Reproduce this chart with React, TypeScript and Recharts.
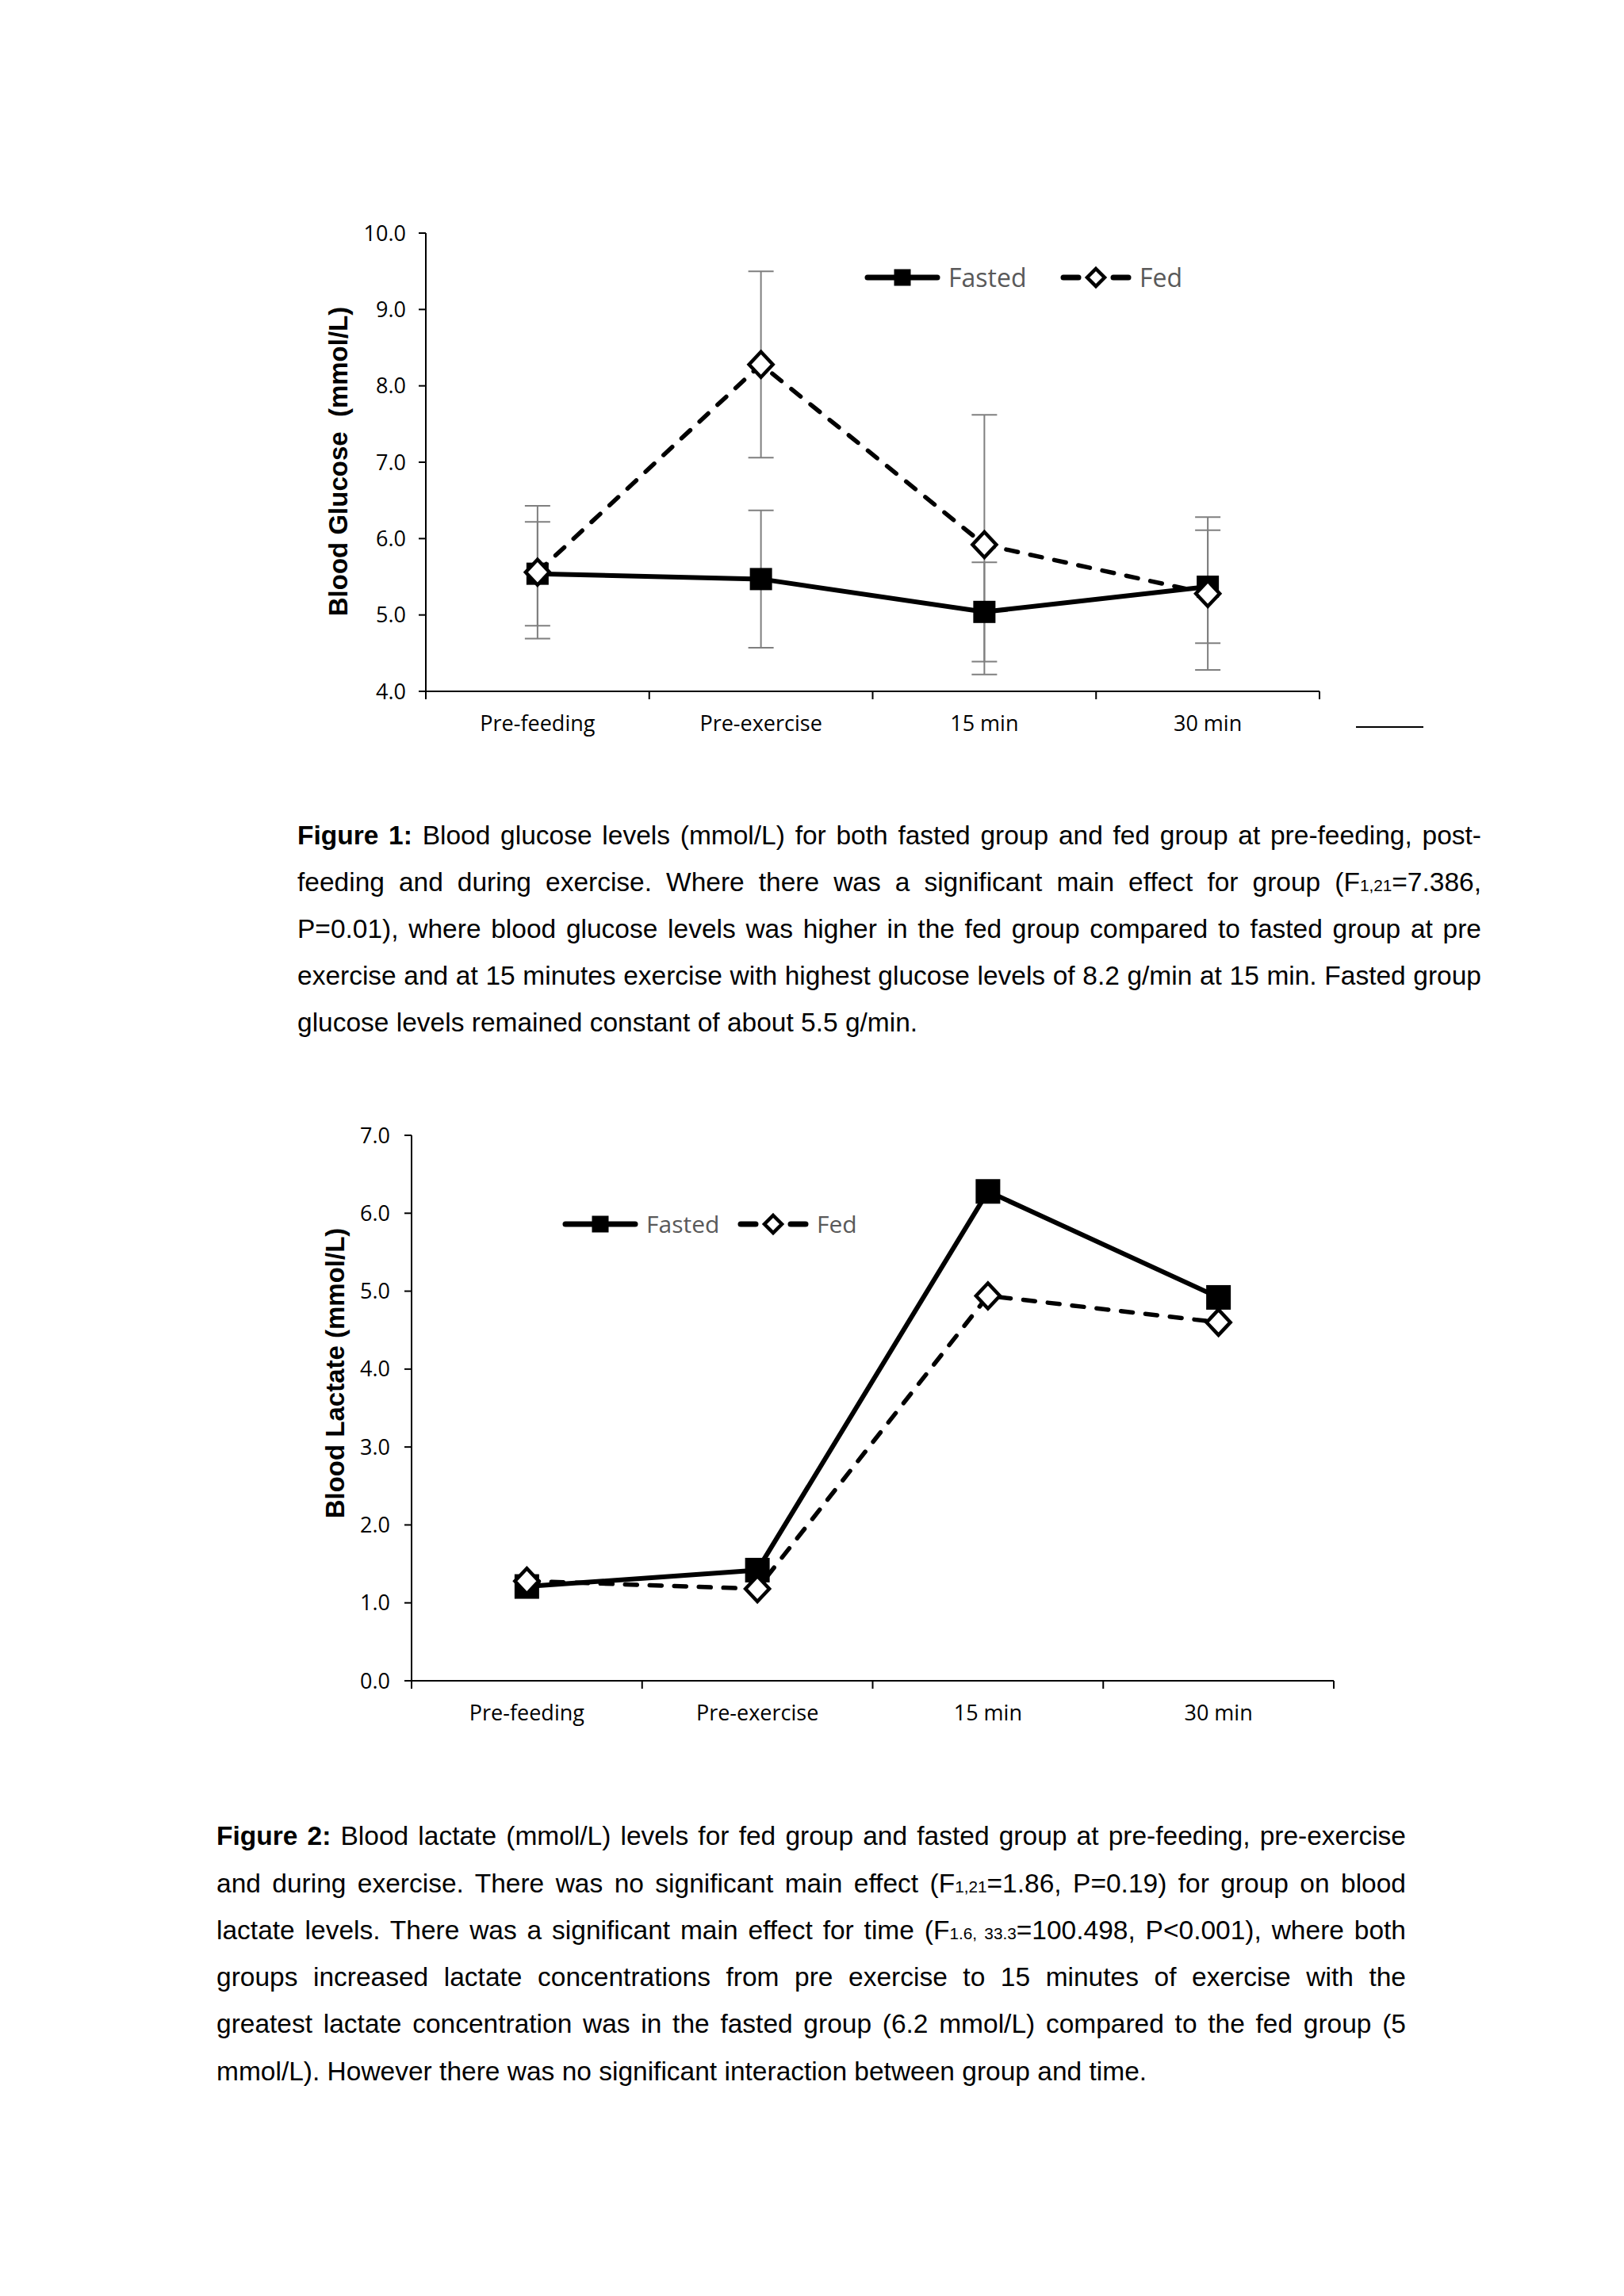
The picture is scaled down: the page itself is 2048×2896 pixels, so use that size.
import React from "react";
import { LineChart, Line, XAxis, YAxis, ErrorBar } from "recharts";

const timepoints = ["Pre-feeding", "Pre-exercise", "15 min", "30 min"];

const glucoseFasted = [5.54, 5.47, 5.04, 5.37];
const glucoseFastedErr = [0.68, 0.9, 0.65, 0.74];
const glucoseFed = [5.56, 8.28, 5.92, 5.28];
const glucoseFedErr = [0.87, 1.22, 1.7, 1.0];
const glucoseTicks = [4, 5, 6, 7, 8, 9, 10];

const lactateFasted = [1.21, 1.42, 6.28, 4.92];
const lactateFed = [1.28, 1.18, 4.94, 4.6];
const lactateTicks = [0, 1, 2, 3, 4, 5, 6, 7];

const glucoseData = timepoints.map((name, i) => ({
  name,
  fasted: glucoseFasted[i],
  fastedErr: glucoseFastedErr[i],
  fed: glucoseFed[i],
  fedErr: glucoseFedErr[i],
}));

const lactateData = timepoints.map((name, i) => ({
  name,
  fasted: lactateFasted[i],
  fed: lactateFed[i],
}));

const tickFont = "'Open Sans', sans-serif";
const textFont = "'Liberation Sans', Arial, sans-serif";

function SquareDot(props: any) {
  const { cx, cy, size } = props;
  if (cx == null || cy == null) return null;
  return <rect x={cx - size / 2} y={cy - size / 2} width={size} height={size} fill="#000" />;
}

function DiamondDot(props: any) {
  const { cx, cy, w, h, sw = 4.5 } = props;
  if (cx == null || cy == null) return null;
  const pts = `${cx},${cy - h} ${cx + w},${cy} ${cx},${cy + h} ${cx - w},${cy}`;
  return <polygon points={pts} fill="#fff" stroke="#000" strokeWidth={sw} strokeLinejoin="miter" />;
}

function CategoryTick(props: any) {
  const { x, payload, index, axisY, step } = props;
  return (
    <g>
      <line x1={x - step / 2} x2={x - step / 2} y1={axisY} y2={axisY + 10} stroke="#000" strokeWidth={2} />
      {index === timepoints.length - 1 && (
        <line x1={x + step / 2} x2={x + step / 2} y1={axisY} y2={axisY + 10} stroke="#000" strokeWidth={2} />
      )}
      <text
        x={x}
        y={axisY + 39}
        textAnchor="middle"
        dominantBaseline="central"
        fontFamily={tickFont}
        fontSize={27}
        fill="#000"
      >
        {payload.value}
      </text>
    </g>
  );
}

function LegendItem({ left, top, lineW, dashed, label, fontSize }: any) {
  const mid = lineW / 2;
  return (
    <div style={{ position: "absolute", left, top, height: 0 }}>
      <svg width={lineW} height={40} style={{ position: "absolute", left: 0, top: -20 }}>
        {dashed ? (
          <g stroke="#000" strokeWidth={7} strokeLinecap="round">
            <line x1={4} x2={mid - 22} y1={20} y2={20} />
            <line x1={mid + 22} x2={lineW - 4} y1={20} y2={20} />
          </g>
        ) : (
          <line x1={4} x2={lineW - 4} y1={20} y2={20} stroke="#000" strokeWidth={7} strokeLinecap="round" />
        )}
        {dashed ? (
          <DiamondDot cx={mid} cy={20} w={11} h={11} sw={4.5} />
        ) : (
          <SquareDot cx={mid} cy={20} size={21} />
        )}
      </svg>
      <span
        style={{
          position: "absolute",
          left: lineW + 10,
          top: -fontSize * 0.7,
          fontFamily: tickFont,
          fontSize,
          color: "#595959",
          whiteSpace: "nowrap",
          lineHeight: `${fontSize * 1.4}px`,
        }}
      >
        {label}
      </span>
    </div>
  );
}

function YTitle({ cx, cy, text }: any) {
  return (
    <div
      style={{
        position: "absolute",
        left: cx,
        top: cy,
        transform: "translate(-50%, -50%) rotate(-90deg)",
        fontFamily: textFont,
        fontWeight: "bold",
        fontSize: 33,
        whiteSpace: "pre",
        color: "#000",
      }}
    >
      {text}
    </div>
  );
}

function CaptionLine({ children, top, left, width, last }: any) {
  return (
    <div
      style={{
        position: "absolute",
        left,
        top,
        width,
        height: 59,
        lineHeight: "59px",
        fontFamily: textFont,
        fontSize: 33.5,
        color: "#000",
        textAlign: last ? "left" : "justify",
        textAlignLast: last ? "left" : "justify",
        whiteSpace: "normal",
      }}
    >
      {children}
    </div>
  );
}

const Sub = ({ children }: any) => <span style={{ fontSize: "0.62em" }}>{children}</span>;

export default function App() {
  // chart 1 geometry (local coordinates)
  const g = { w: 1400, h: 720, top: 44, left: 57, right: 116, bottom: 38, yw: 100, xh: 60 };
  const gPlotW = g.w - g.left - g.yw - g.right;
  const gPlotH = g.h - g.top - g.bottom - g.xh;
  const gAxisY = g.top + gPlotH;

  const l = { w: 1400, h: 820, top: 42, left: 59, right: 78, bottom: 30, yw: 100, xh: 60 };
  const lPlotW = l.w - l.left - l.yw - l.right;
  const lPlotH = l.h - l.top - l.bottom - l.xh;
  const lAxisY = l.top + lPlotH;

  const yTick = { fill: "#000", fontSize: 27, fontFamily: tickFont };

  return (
    <div style={{ position: "absolute", left: 0, top: 0, width: 2048, height: 2896, background: "#fff" }}>
      {/* Figure 1 chart */}
      <div style={{ position: "absolute", left: 380, top: 250 }}>
        <LineChart
          width={g.w}
          height={g.h}
          data={glucoseData}
          margin={{ top: g.top, left: g.left, right: g.right, bottom: g.bottom }}
        >
          <XAxis
            dataKey="name"
            height={g.xh}
            padding={{ left: gPlotW / 8, right: gPlotW / 8 }}
            axisLine={{ stroke: "#000", strokeWidth: 2 }}
            tickLine={false}
            tickSize={0}
            interval={0}
            tick={(p: any) => <CategoryTick {...p} axisY={gAxisY} step={gPlotW / 4} />}
          />
          <YAxis
            width={g.yw}
            domain={[4, 10]}
            ticks={glucoseTicks}
            tickFormatter={(v: number) => v.toFixed(1)}
            axisLine={{ stroke: "#000", strokeWidth: 2 }}
            tickLine={{ stroke: "#000", strokeWidth: 2 }}
            tickSize={9}
            tickMargin={16}
            tick={yTick}
          />
          <Line
            dataKey="fasted"
            stroke="#000"
            strokeWidth={6}
            strokeLinejoin="round"
            isAnimationActive={false}
            dot={(p: any) => <SquareDot key={`gf-${p.index}`} {...p} size={28} />}
          >
            <ErrorBar dataKey="fastedErr" direction="y" width={16} strokeWidth={2} stroke="#7f7f7f" />
          </Line>
          <Line
            dataKey="fed"
            stroke="#000"
            strokeWidth={5.5}
            strokeDasharray="15 16"
            strokeLinecap="round"
            isAnimationActive={false}
            dot={(p: any) => <DiamondDot key={`gd-${p.index}`} {...p} w={15} h={16} />}
          >
            <ErrorBar dataKey="fedErr" direction="y" width={16} strokeWidth={2} stroke="#7f7f7f" />
          </Line>
        </LineChart>
      </div>
      <YTitle cx={427} cy={582} text={"Blood Glucose  (mmol/L)"} />
      <LegendItem left={1090} top={350} lineW={96} label="Fasted" fontSize={32} />
      <LegendItem left={1337} top={350} lineW={90} dashed label="Fed" fontSize={32} />
      <div style={{ position: "absolute", left: 1710, top: 916, width: 85, height: 2, background: "#000" }} />

      {/* Figure 1 caption */}
      <CaptionLine left={375} top={1024} width={1493}>
        <b>Figure 1:</b> Blood glucose levels (mmol/L) for both fasted group and fed group at pre-feeding, post-
      </CaptionLine>
      <CaptionLine left={375} top={1083} width={1493}>
        feeding and during exercise. Where there was a significant main effect for group (F<Sub>1,21</Sub>=7.386,
      </CaptionLine>
      <CaptionLine left={375} top={1142} width={1493}>
        P=0.01), where blood glucose levels was higher in the fed group compared to fasted group at pre
      </CaptionLine>
      <CaptionLine left={375} top={1201} width={1493}>
        exercise and at 15 minutes exercise with highest glucose levels of 8.2 g/min at 15 min. Fasted group
      </CaptionLine>
      <CaptionLine left={375} top={1260} width={1493} last>
        glucose levels remained constant of about 5.5 g/min.
      </CaptionLine>

      {/* Figure 2 chart */}
      <div style={{ position: "absolute", left: 360, top: 1390 }}>
        <LineChart
          width={l.w}
          height={l.h}
          data={lactateData}
          margin={{ top: l.top, left: l.left, right: l.right, bottom: l.bottom }}
        >
          <XAxis
            dataKey="name"
            height={l.xh}
            padding={{ left: lPlotW / 8, right: lPlotW / 8 }}
            axisLine={{ stroke: "#000", strokeWidth: 2 }}
            tickLine={false}
            tickSize={0}
            interval={0}
            tick={(p: any) => <CategoryTick {...p} axisY={lAxisY} step={lPlotW / 4} />}
          />
          <YAxis
            width={l.yw}
            domain={[0, 7]}
            ticks={lactateTicks}
            tickFormatter={(v: number) => v.toFixed(1)}
            axisLine={{ stroke: "#000", strokeWidth: 2 }}
            tickLine={{ stroke: "#000", strokeWidth: 2 }}
            tickSize={9}
            tickMargin={18}
            tick={yTick}
          />
          <Line
            dataKey="fasted"
            stroke="#000"
            strokeWidth={6}
            strokeLinejoin="round"
            isAnimationActive={false}
            dot={(p: any) => <SquareDot key={`lf-${p.index}`} {...p} size={31} />}
          />
          <Line
            dataKey="fed"
            stroke="#000"
            strokeWidth={5.5}
            strokeDasharray="15 16"
            strokeLinecap="round"
            isAnimationActive={false}
            dot={(p: any) => <DiamondDot key={`ld-${p.index}`} {...p} w={15} h={16} />}
          />
        </LineChart>
      </div>
      <YTitle cx={423} cy={1732} text={"Blood Lactate (mmol/L)"} />
      <LegendItem left={709} top={1544} lineW={96} label="Fasted" fontSize={30} />
      <LegendItem left={930} top={1544} lineW={90} dashed label="Fed" fontSize={30} />

      {/* Figure 2 caption */}
      <CaptionLine left={273} top={2286} width={1500}>
        <b>Figure 2:</b> Blood lactate (mmol/L) levels for fed group and fasted group at pre-feeding, pre-exercise
      </CaptionLine>
      <CaptionLine left={273} top={2346} width={1500}>
        and during exercise. There was no significant main effect (F<Sub>1,21</Sub>=1.86, P=0.19) for group on blood
      </CaptionLine>
      <CaptionLine left={273} top={2405} width={1500}>
        lactate levels. There was a significant main effect for time (F<Sub>1.6, 33.3</Sub>=100.498, P&lt;0.001), where both
      </CaptionLine>
      <CaptionLine left={273} top={2464} width={1500}>
        groups increased lactate concentrations from pre exercise to 15 minutes of exercise with the
      </CaptionLine>
      <CaptionLine left={273} top={2523} width={1500}>
        greatest lactate concentration was in the fasted group (6.2 mmol/L) compared to the fed group (5
      </CaptionLine>
      <CaptionLine left={273} top={2583} width={1500} last>
        mmol/L). However there was no significant interaction between group and time.
      </CaptionLine>
    </div>
  );
}
